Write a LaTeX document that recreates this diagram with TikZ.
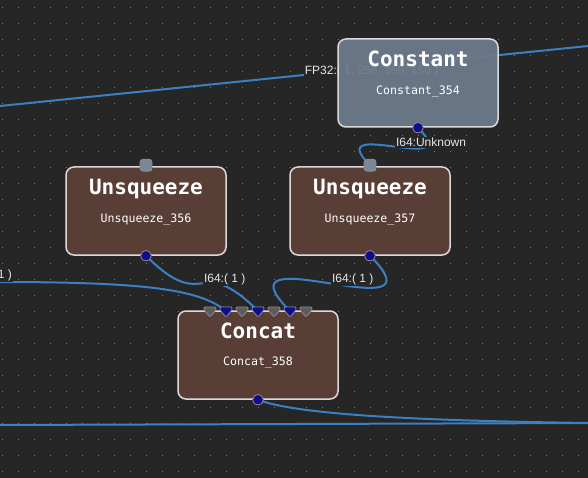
\documentclass[tikz,border=0pt]{standalone}
\usepackage{fontspec}
\setmainfont{Liberation Sans}
\newfontfamily\monofam{DejaVu Sans Mono}
\usetikzlibrary{calc}
\definecolor{bgc}{HTML}{262626}
\definecolor{dotc}{HTML}{7A7A7A}
\definecolor{edgec}{HTML}{3A80C2}
\definecolor{constc}{HTML}{6C7B8D}
\definecolor{brownc}{HTML}{5D4037}
\definecolor{borderc}{HTML}{DADADA}
\definecolor{portc}{HTML}{0E0E8C}
\definecolor{portbd}{HTML}{8A8A9A}
\definecolor{inportc}{HTML}{7B8896}
\definecolor{trigrey}{HTML}{5C5C5C}
\definecolor{lblc}{HTML}{E6E6E6}
\pgfdeclarelayer{bglayer}
\pgfdeclarelayer{edgelayer}
\pgfsetlayers{bglayer,edgelayer,main}
\tikzset{
  gnode/.style={draw=borderc, line width=1.5pt, rounded corners=8pt,
    minimum width=160pt, minimum height=88pt, inner sep=0pt, fill opacity=0.93},
  ttl/.style={text=white, font=\monofam\bfseries\fontsize{21}{24}\selectfont, anchor=base, inner sep=0pt},
  subttl/.style={text=white, font=\monofam\fontsize{11.6}{13}\selectfont, anchor=base, inner sep=0pt},
  outport/.style={circle, fill=portc, draw=portbd, line width=0.8pt, minimum size=10.6pt, inner sep=0pt},
  inport/.style={rectangle, rounded corners=3pt, fill=inportc, draw=portbd, line width=0.8pt, minimum size=12pt, inner sep=0pt},
  edge/.style={draw=edgec, line width=2pt},
  elabel/.style={text=lblc, font=\fontsize{12}{14}\selectfont, fill=bgc, inner sep=1pt, anchor=west, yshift=4pt},
}
\begin{document}
\begin{tikzpicture}[x=1pt,y=-1pt]
\useasboundingbox (0,0) rectangle (588,478);
\begin{pgfonlayer}{bglayer}
  \fill[bgc] (0,0) rectangle (588,478);
  \foreach \i in {0,...,36} {
    \foreach \j in {0,...,29} {
      \fill[dotc] ({2.3+16*\i-0.5},{7.3+16*\j-0.5}) rectangle ++(1,1);
    }
  }
\end{pgfonlayer}

% nodes
\node[gnode, fill=constc] (c354) at (418,83) {};
\node[ttl] at ([yshift=-28.5pt]c354.north) {Constant};
\node[subttl] at ([yshift=-56pt]c354.north) {Constant\_354};

\node[gnode, fill=brownc] (u356) at (146,211) {};
\node[ttl] at ([yshift=-28.5pt]u356.north) {Unsqueeze};
\node[subttl] at ([yshift=-56pt]u356.north) {Unsqueeze\_356};

\node[gnode, fill=brownc] (u357) at (370,211) {};
\node[ttl] at ([yshift=-28.5pt]u357.north) {Unsqueeze};
\node[subttl] at ([yshift=-56pt]u357.north) {Unsqueeze\_357};

\node[gnode, fill=brownc] (c358) at (258,355) {};
\node[ttl] at ([yshift=-28pt]c358.north) {Concat};
\node[subttl] at ([yshift=-55pt]c358.north) {Concat\_358};

% ports
\node[outport] (c354out) at (c354.south) {};
\node[inport] (u356in) at ([yshift=1pt]u356.north) {};
\node[outport] (u356out) at (u356.south) {};
\node[inport] (u357in) at ([yshift=1pt]u357.north) {};
\node[outport] (u357out) at (u357.south) {};
\node[outport] (c358out) at (c358.south) {};

\foreach \k/\xx/\col in {1/210/trigrey,2/226/portc,3/242/trigrey,4/258/portc,5/274/trigrey,6/290/portc,7/306/trigrey} {
  \coordinate (cin\k) at (\xx,311);
  \draw[fill=\col, draw=portbd, line width=0.8pt, rounded corners=1pt]
    ($(cin\k)+(-6,-4)$) -- ($(cin\k)+(6,-4)$) -- ($(cin\k)+(6,-1)$) -- ($(cin\k)+(0,6)$) -- ($(cin\k)+(-6,-1)$) -- cycle;
}

% free ends
\coordinate (L1) at (-2,106.2);
\coordinate (R1) at (590,45.8);
\coordinate (L2) at (-2,282);
\coordinate (L3) at (-2,425);
\coordinate (R3) at (590,423);

\begin{pgfonlayer}{edgelayer}
  \draw[edge] (L1) -- node[elabel, pos=0.515] {FP32:( 1, 256, 150, 150 )} (R1);
  \draw[edge] (L3) -- (R3);
  \draw[edge] (c358out.center) .. controls (300,416) and (440,421) .. (R3);
  \draw[edge] (L2) .. controls (150,282) and (200,290) .. (cin2);
  \node[elabel, anchor=east, yshift=0pt] at (13,279) {I64:( 1 )};
  \draw[edge] (c354out.center) .. controls +(50,50) and +(-50,-50) .. (u357in.center)
     node[elabel, pos=0.5] {I64:Unknown};
  \draw[edge] (u356out.center) .. controls +(60,60) and +(-60,-60) .. (cin4)
     node[elabel, pos=0.5] {I64:( 1 )};
  \draw[edge] (u357out.center) .. controls +(80,80) and +(-80,-80) .. (cin6)
     node[elabel, pos=0.5] {I64:( 1 )};
\end{pgfonlayer}
\end{tikzpicture}
\end{document}
